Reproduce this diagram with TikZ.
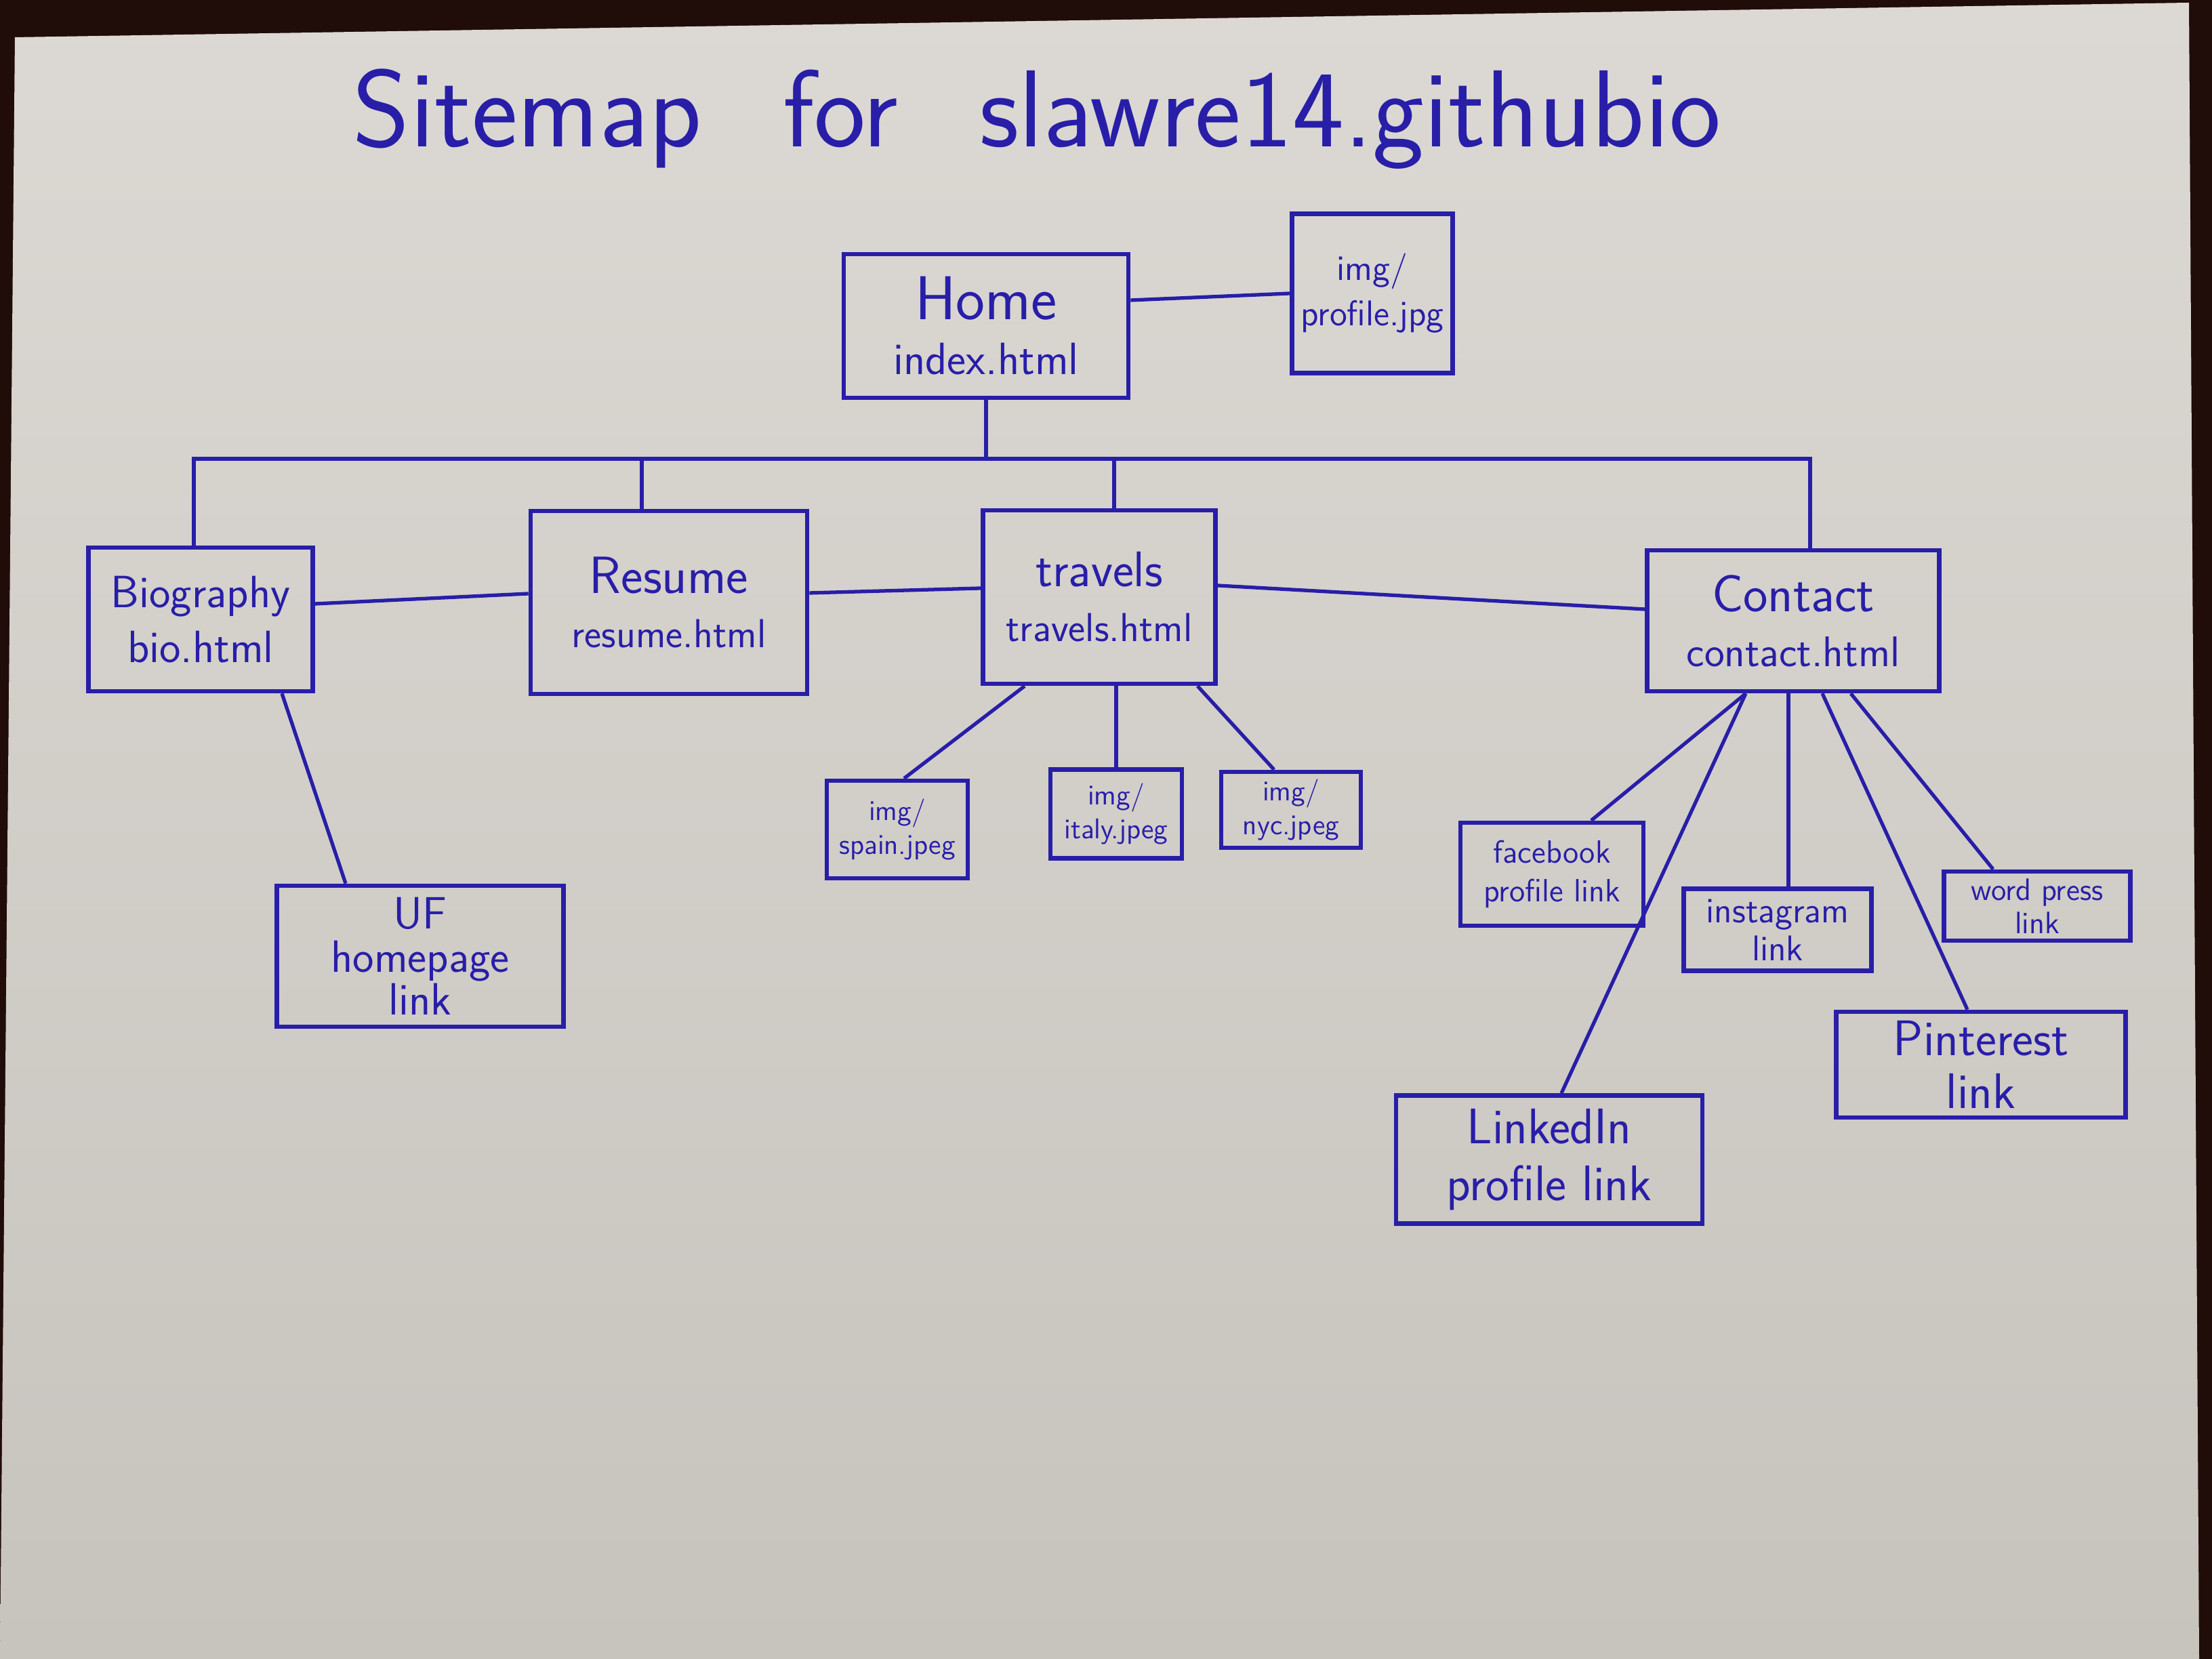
\documentclass[tikz,border=0pt]{standalone}
\usepackage{tikz}
\definecolor{ink}{RGB}{40,30,168}
\definecolor{paper}{RGB}{220,217,212}
\definecolor{papershade}{RGB}{199,195,189}
\definecolor{desk}{RGB}{32,12,8}

\begin{document}
\begin{tikzpicture}[
    page/.style={draw=ink, line width=1.9pt, text=ink, align=center, inner sep=2pt,
      font=\sffamily\fontsize{19}{23}\selectfont},
    file/.style={page, font=\sffamily\fontsize{12}{14}\selectfont},
    link/.style={draw=ink, line width=1.5pt}]
    \useasboundingbox (0,0) rectangle (32.64,24.48);
    % the photo: desk and sheet of paper
    \fill[desk] (0,0) rectangle (32.64,24.48);
    \shade[top color=paper, bottom color=papershade]
      (0,0) -- (0.22,23.93) -- (32.30,24.44) -- (32.45,0) -- cycle;

    \node[text=ink, font=\sffamily\fontsize{46}{52}\selectfont] (title) at (15.30,22.72)
      {Sitemap\hspace{1.2cm}for\hspace{1.2cm}slawre14.githubio};

    % pages
    \node[page, minimum width=4.2cm, minimum height=2.12cm] (home) at (14.55,19.67)
      {{\fontsize{26}{30}\selectfont Home}\\index.html};
    \node[file, minimum width=2.37cm, minimum height=2.35cm,
      font=\sffamily\fontsize{15}{19}\selectfont] (profile) at (20.25,20.15) {img/\\profile.jpg};
    \node[page, minimum width=3.31cm, minimum height=2.12cm] (bio) at (2.96,15.34)
      {Biography\\bio.html};
    \node[page, minimum width=4.08cm, minimum height=2.7cm] (resume) at (9.87,15.59)
      {{\fontsize{22}{26}\selectfont Resume}\\{\fontsize{17}{21}\selectfont resume.html}};
    \node[page, minimum width=3.43cm, minimum height=2.56cm] (travels) at (16.22,15.67)
      {{\fontsize{21}{25}\selectfont travels}\\{\fontsize{17}{21}\selectfont travels.html}};
    \node[page, minimum width=4.31cm, minimum height=2.08cm] (contact) at (26.46,15.32)
      {{\fontsize{22}{26}\selectfont Contact}\\{\fontsize{18}{22}\selectfont contact.html}};

    % links and images
    \node[page, minimum width=4.23cm, minimum height=2.08cm,
      font=\sffamily\fontsize{19}{18}\selectfont] (uf) at (6.20,10.37) {UF\\homepage\\link};
    \node[file, minimum width=2.08cm, minimum height=1.44cm] (spain) at (13.24,12.24) {img/\\spain.jpeg};
    \node[file, minimum width=1.94cm, minimum height=1.31cm] (italy) at (16.47,12.47) {img/\\italy.jpeg};
    \node[file, minimum width=2.06cm, minimum height=1.12cm] (nyc) at (19.05,12.53) {img/\\nyc.jpeg};
    \node[file, minimum width=2.70cm, minimum height=1.52cm,
      font=\sffamily\fontsize{13.5}{16}\selectfont] (facebook) at (22.90,11.58) {facebook\\profile link};
    \node[file, minimum width=2.77cm, minimum height=1.21cm,
      font=\sffamily\fontsize{15}{16}\selectfont] (instagram) at (26.23,10.76) {instagram\\link};
    \node[file, minimum width=2.75cm, minimum height=1.02cm,
      font=\sffamily\fontsize{13}{14}\selectfont] (wordpress) at (30.06,11.11) {word press\\link};
    \node[page, minimum width=4.27cm, minimum height=1.56cm,
      font=\sffamily\fontsize{21}{22}\selectfont] (pinterest) at (29.23,8.77) {Pinterest\\link};
    \node[page, minimum width=4.52cm, minimum height=1.89cm,
      font=\sffamily\fontsize{21}{24}\selectfont] (linkedin) at (22.86,7.37) {LinkedIn\\profile link};

    % tree
    \coordinate (bus) at (14.55,17.71);
    \draw[link] ([yshift=0.38cm]home.east) -- (profile.west);
    \draw[link] (home.south) -- (bus);
    \draw[link] ([xshift=-0.1cm]bio.north) |- (bus) -| ([xshift=0.25cm]contact.north);
    \draw[link] ([xshift=-0.4cm]resume.north) -- ([xshift=-0.4cm]resume.north |- bus);
    \draw[link] ([xshift=0.22cm]travels.north) -- ([xshift=0.22cm]travels.north |- bus);
    \draw[link] ([yshift=0.23cm]bio.east) -- ([yshift=0.13cm]resume.west);
    \draw[link] ([yshift=0.14cm]resume.east) -- ([yshift=0.13cm]travels.west);
    \draw[link] ([yshift=0.17cm]travels.east) -- ([yshift=0.17cm]contact.west);

    \draw[link] ([xshift=1.2cm]bio.south) -- ([xshift=-1.1cm]uf.north);
    \draw[link] ([xshift=-1.1cm]travels.south) -- ([xshift=0.1cm]spain.north);
    \draw[link] (italy.north |- travels.south) -- (italy.north);
    \draw[link] ([xshift=1.45cm]travels.south) -- ([xshift=-0.25cm]nyc.north);

    \draw[link] ([xshift=-0.7cm]contact.south) -- ([xshift=0.58cm]facebook.north);
    \draw[link] ([xshift=-0.7cm]contact.south) -- ([xshift=0.18cm]linkedin.north);
    \draw[link] ([xshift=0.16cm]instagram.north |- contact.south) -- ([xshift=0.16cm]instagram.north);
    \draw[link] ([xshift=0.43cm]contact.south) -- ([xshift=-0.2cm]pinterest.north);
    \draw[link] ([xshift=0.85cm]contact.south) -- ([xshift=-0.65cm]wordpress.north);
\end{tikzpicture}
\end{document}
